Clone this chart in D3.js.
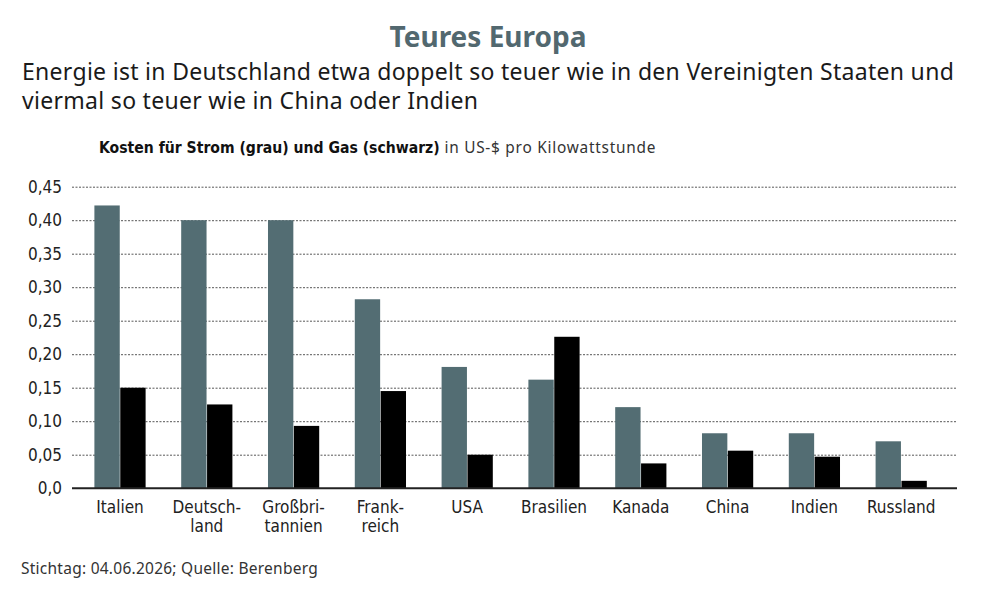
<!DOCTYPE html>
<html>
<head>
<meta charset="utf-8">
<script src="https://cdn.jsdelivr.net/npm/d3@7"></script>
<style>
	body { margin: 0; background: #fff; }
	svg { display: block; }
	.tick text { font-family: "DejaVu Sans Condensed", "DejaVu Sans", sans-serif; }
</style>
</head>
<body>
<svg width="1000" height="602"></svg>
<script>
var countries = [
	["Italien"], ["Deutsch-", "land"], ["Großbri-", "tannien"], ["Frank-", "reich"], ["USA"],
	["Brasilien"], ["Kanada"], ["China"], ["Indien"], ["Russland"]
];
var strom = [0.422, 0.40, 0.40, 0.282, 0.181, 0.162, 0.121, 0.082, 0.082, 0.070];
var gas = [0.150, 0.125, 0.093, 0.145, 0.050, 0.226, 0.037, 0.056, 0.047, 0.011];
var yTicks = [0, 0.05, 0.10, 0.15, 0.20, 0.25, 0.30, 0.35, 0.40, 0.45];

var svg = d3.select("svg");
var condensed = '"DejaVu Sans Condensed", "DejaVu Sans", sans-serif';

svg.append("text")
	.attr("x", 488).attr("y", 47)
	.attr("text-anchor", "middle")
	.attr("font-family", "Noto Sans").attr("font-weight", "bold")
	.attr("font-size", 28).attr("fill", "#52686f")
	.text("Teures Europa");

var sub = ["Energie ist in Deutschland etwa doppelt so teuer wie in den Vereinigten Staaten und",
	"viermal so teuer wie in China oder Indien"];
svg.selectAll(".sub").data(sub).enter().append("text")
	.attr("class", "sub")
	.attr("x", 22).attr("y", function (d, i) { return 80 + i * 29; })
	.attr("font-family", "Noto Sans").attr("font-size", 23).attr("fill", "#1a1a1a")
	.attr("letter-spacing", 0.3)
	.text(function (d) { return d; });

var head = svg.append("text")
	.attr("x", 99).attr("y", 153)
	.attr("fill", "#111");
head.append("tspan").attr("font-family", condensed).attr("font-size", 15.6)
	.attr("font-weight", "bold").text("Kosten für Strom (grau) und Gas (schwarz)");
head.append("tspan").attr("font-family", "Noto Sans").attr("font-size", 15.4)
	.attr("letter-spacing", 0.75)
	.attr("fill", "#333").text(" in US-$ pro Kilowattstunde");

var left = 72, right = 957;
var y = d3.scaleLinear().domain([0, 0.45]).range([488.2, 186.7]);

var x = d3.scaleBand()
	.domain(d3.range(countries.length))
	.range([76.6, 944.6])
	.paddingInner(0.41)
	.paddingOuter(0.205);

var xs = d3.scaleBand().domain(["strom", "gas"]).range([0, x.bandwidth()]).paddingInner(0.02);

// gridlines
var grid = svg.append("g").attr("transform", "translate(" + left + ",0)")
	.call(d3.axisLeft(y).tickValues(yTicks.slice(1)).tickSize(-(right - left)).tickFormat(""));
grid.select(".domain").remove();
grid.selectAll("line").attr("stroke", "#444").attr("stroke-dasharray", "2,1.5").attr("stroke-width", 0.9);

// y labels
var yAxis = svg.append("g").attr("transform", "translate(" + left + ",0)")
	.call(d3.axisLeft(y).tickValues(yTicks).tickSize(0).tickPadding(10)
		.tickFormat(function (d) { return d === 0 ? "0,0" : d3.format(".2f")(d).replace(".", ","); }));
yAxis.select(".domain").remove();
yAxis.selectAll("text").attr("font-size", 17).attr("fill", "#222");

var groups = svg.append("g").selectAll("g").data(countries).enter().append("g")
	.attr("transform", function (d, i) { return "translate(" + x(i) + ",0)"; });

groups.append("rect")
	.attr("x", xs("strom")).attr("width", xs.bandwidth())
	.attr("y", function (d, i) { return y(strom[i]); })
	.attr("height", function (d, i) { return y(0) - y(strom[i]); })
	.attr("fill", "#536d73");

groups.append("rect")
	.attr("x", xs("gas")).attr("width", xs.bandwidth())
	.attr("y", function (d, i) { return y(gas[i]); })
	.attr("height", function (d, i) { return y(0) - y(gas[i]); })
	.attr("fill", "#000");

// baseline
svg.append("line")
	.attr("x1", left).attr("x2", right)
	.attr("y1", y(0)).attr("y2", y(0))
	.attr("stroke", "#222").attr("stroke-width", 2);

// x labels
var xl = groups.append("text")
	.attr("text-anchor", "middle")
	.attr("font-family", condensed).attr("font-size", 17).attr("fill", "#222");
xl.selectAll("tspan").data(function (d) { return d; }).enter().append("tspan")
	.attr("x", x.bandwidth() / 2)
	.attr("y", function (d, i) { return 513 + i * 19; })
	.text(function (d) { return d; });

svg.append("text")
	.attr("x", 21).attr("y", 574)
	.attr("font-family", "Noto Sans").attr("font-size", 15.5).attr("fill", "#333")
	.attr("letter-spacing", 0.25)
	.text("Stichtag: 04.06.2026; Quelle: Berenberg");
</script>
</body>
</html>
